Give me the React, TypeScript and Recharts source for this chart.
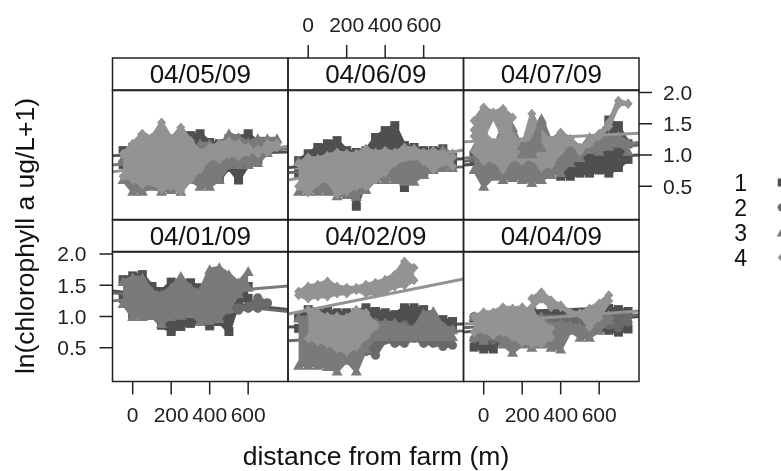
import { ComposedChart, Area, Line, XAxis, YAxis, ReferenceArea, ScatterChart, Scatter } from 'recharts';

type Row = [number, number, number]; // distance, low edge, high edge of the point cloud
type Kind = 1 | 2 | 3 | 4;
interface Cloud { rows: Row[]; kind: Kind }
interface Fit { kind: Kind; left: number; right: number; after: number } // after: cloud it is drawn over

const W = 781;
const H = 471;
const PW = 175.5;
const PH = 130;
const INK = '#222';
const FONT = '"Liberation Sans", Arial, sans-serif';
const COLORS: Record<Kind, string> = { 1: '#4f4f4f', 2: '#6a6a6a', 3: '#7a7a7a', 4: '#939393' };

const xDomain = [-105, 807];
const yDomain = [-0.04, 2.04];
const xTicks = [0, 200, 400, 600];
const yTicks = [0.5, 1, 1.5, 2];
const legendKinds: Kind[] = [1, 2, 3, 4];

// 04/05/09
const a1: Row[] = [[-50,.85,1.07],[0,.75,1.12],[50,.75,1.28],[100,.75,1.23],[150,.75,1.18],[200,.75,1.18],[250,.75,1.23],[300,.85,1.31],[350,.9,1.34],[400,.85,1.2],[450,.61,1.18],[500,.8,1.26],[550,.6,1.26],[600,.85,1.34],[650,.93,1.2]];
const a3: Row[] = [[-50,.61,.95],[0,.42,1],[50,.42,1],[100,.5,1],[150,.42,1],[200,.45,1],[250,.42,1],[300,.61,1],[350,.5,1.18],[400,.5,1.18],[450,.61,1.12],[500,.85,1.34],[550,.85,1.28],[600,.85,1.2],[650,.88,1.26],[700,1.04,1.26],[750,1.14,1.26]];
const a4: Row[] = [[-50,.66,1.02],[0,.61,1.18],[50,.53,1.34],[100,.56,1.28],[150,.45,1.52],[200,.5,1.26],[250,.42,1.44],[300,.61,1.23],[350,.77,1.04],[400,.96,1.12],[450,.93,1.18],[500,1.01,1.22],[550,.98,1.18],[600,1.04,1.12],[650,1.09,1.02],[700,1.04,1.18],[750,1.12,1.18]];
// 04/06/09
const b1: Row[] = [[-50,.7,.91],[0,.7,1.02],[50,.7,1.12],[100,.7,1.18],[150,.7,1.23],[200,.6,1.07],[250,.18,1.04],[300,.6,1.07],[350,.7,1.28],[400,.7,1.39],[450,.7,1.47],[500,.48,1.15],[550,.7,1.12],[600,.7,1.07],[650,.8,1.07],[700,.8,1.1],[750,.85,.96]];
const b3: Row[] = [[-50,.42,.9],[0,.42,.9],[50,.42,.9],[100,.42,.9],[150,.35,.9],[200,.37,.9],[250,.34,.9],[300,.45,.9],[350,.61,.9],[400,.61,.95],[450,.61,.98],[500,.58,1.01],[550,.58,1.01],[600,.69,1.01],[650,.77,.98],[700,.8,1.09],[750,.8,1.02]];
const b4: Row[] = [[-50,.5,.86],[0,.4,.96],[50,.56,.94],[100,.61,.99],[150,.37,1.04],[200,.42,1.02],[250,.5,1.02],[300,.5,1.1],[350,.61,1.04],[400,.72,1.07],[450,.88,1.04],[500,.98,1.12],[550,.98,1.1],[600,.9,1.04],[650,.77,1.07],[700,.88,1.02],[750,.82,.96]];
// 04/07/09
const c1: Row[] = [[-50,.9,1.0],[0,.9,1.0],[50,.9,1.0],[350,.9,1.0],[400,.66,1.0],[450,.66,1.0],[500,.71,1.0],[550,.71,1.0],[600,.76,1.07],[650,.71,1.56],[700,.8,1.47],[750,.93,1.18]];
const c3: Row[] = [[-50,.77,1.1],[0,.5,1.1],[50,.66,1.1],[100,.61,1.44],[150,.64,1.44],[200,.61,1.1],[250,.56,1.2],[300,.61,1.58],[350,.69,1.2],[400,.72,1.2],[450,.88,1.2],[500,.96,1.1],[550,1.09,1.28],[600,1.06,1.28],[650,1.14,1.3],[700,1.2,1.3],[750,1.06,1.2]];
const c4: Row[] = [[-50,1.06,1.4],[0,.9,1.35],[50,.93,1.2],[100,.77,1.3],[150,.96,1.3],[200,.9,1.12],[250,.96,1.66],[300,.8,1.34],[350,.85,1.23],[400,1.06,1.36],[450,1.2,1.26],[500,1.06,1.12],[550,1.18,1.22],[600,1.3,1.34],[650,1.46,1.52],[700,1.81,1.87],[750,1.82,1.82]];
const c4top: Row[] = [[-50,1.3,1.55],[0,1.3,1.76],[50,1.62,1.68],[100,1.3,1.74],[150,1.3,1.6]];
const c3top: Row[] = [[200,1.02,1.15],[250,1.02,1.2],[300,1.12,1.55]];
// 04/01/09
const d1: Row[] = [[-50,1.29,1.59],[0,1.02,1.65],[50,1.02,1.67],[100,1.02,1.48],[150,.86,1.4],[200,.76,1.55],[250,.84,1.51],[300,.89,1.54],[350,.92,1.46],[400,.85,1.43],[450,.92,1.46],[500,.76,1.27],[550,1.24,1.48],[600,1.29,1.48]];
const d2: Row[] = [[450,1.1,1.14],[500,1.1,1.16],[550,1.1,1.14],[600,1.13,1.16],[650,1.13,1.3],[700,1.21,1.22]];
const d3: Row[] = [[-50,1.21,1.56],[0,1,1.62],[50,1,1.62],[100,1.02,1.4],[150,.89,1.35],[200,1,1.46],[250,1.02,1.64],[300,1.05,1.46],[350,.92,1.4],[400,.94,1.75],[450,.97,1.78],[500,1.13,1.67],[550,1.37,1.54],[600,1.47,1.72]];
// 04/02/09
const e1: Row[] = [[-50,.81,.98],[0,.81,1.11],[50,.81,1.08],[100,.81,1.08],[150,.81,1.06],[200,.81,1.06],[250,.81,1.06],[300,.81,1.14],[350,.81,1.08],[400,.81,1.06],[450,.81,1.03],[500,.81,1.14],[550,.81,1.14],[600,.81,1.11],[650,.81,.98],[700,.81,.95],[750,.81,.92]];
const e2: Row[] = [[300,.44,1],[350,.38,.9],[400,.62,.84],[450,.57,.79],[500,.57,.87],[550,.65,.79],[600,.57,.79],[650,.57,.84],[700,.52,.84],[750,.54,.79]];
const e3: Row[] = [[-50,.22,.98],[0,.22,.98],[50,.22,.98],[100,.2,.98],[150,.13,.98],[200,.3,.98],[250,.13,.98],[300,.49,.98],[350,.68,.9],[400,.68,.9],[450,.68,.9],[500,.68,.84],[550,.68,.81],[600,.68,1.05],[650,.68,1.08],[700,.68,.84],[750,.68,.79]];
const e4low: Row[] = [[0,.65,1.11],[50,.6,1.06],[100,.57,1],[150,.49,1],[200,.44,.98],[250,.52,1.11],[300,.68,1.06],[350,.85,.86]];
const e4high: Row[] = [[-50,1.34,1.4],[0,1.29,1.48],[50,1.32,1.51],[100,1.32,1.56],[150,1.37,1.48],[200,1.37,1.46],[250,1.42,1.46],[300,1.37,1.51],[350,1.37,1.54],[400,1.4,1.59],[450,1.48,1.67],[500,1.5,1.88],[550,1.58,1.78]];
// 04/04/09
const f1: Row[] = [[-50,.51,.95],[0,.48,.95],[50,.48,.95],[150,.85,1.05],[200,.85,1.08],[250,.85,1.08],[650,.78,1.13],[700,.75,1.11],[750,.8,1.08]];
const f2: Row[] = [[-50,.64,1],[0,.62,1],[50,.62,1],[650,.86,1],[700,.82,1],[750,.91,1]];
const f3: Row[] = [[-50,.67,1],[0,.62,1],[50,.7,1],[100,.56,1],[150,.43,1],[200,.56,1],[250,.51,1],[300,.56,1],[350,.51,.86],[400,.48,.89],[450,.78,.86],[500,.67,.84],[550,.67,.81],[600,.78,.89],[650,.94,1.02]];
const f4a: Row[] = [[250,1.15,1.29],[300,1.28,1.39],[350,1.15,1.26],[400,1.15,1.18],[450,1.05,1.07],[500,1.04,1.05],[550,.83,1.13],[600,.99,1.21],[650,1.25,1.34]];
const f4b: Row[] = [[-50,.75,1],[0,.78,1.07],[50,.7,1.07],[100,.75,1.15],[150,.67,1.13],[200,.59,1.15],[250,.56,1.07],[300,.56,.91],[350,.67,.81]];

const dot = (kind: Kind, fill: string, r = 4.5) => (p: any) => {
  const { cx, cy, index } = p;
  if (cx == null || cy == null) return <g key={index} />;
  if (kind === 1) return <rect key={index} x={cx - r} y={cy - r} width={2 * r} height={2 * r} fill={fill} />;
  if (kind === 2) return <circle key={index} cx={cx} cy={cy} r={r} fill={fill} />;
  if (kind === 3) return <path key={index} d={`M${cx},${cy - r - 1}L${cx + r + 1},${cy + r}L${cx - r - 1},${cy + r}Z`} fill={fill} />;
  return <path key={index} d={`M${cx},${cy - r - 0.5}L${cx + r},${cy}L${cx},${cy + r + 0.5}L${cx - r},${cy}Z`} fill={fill} />;
};

const tickStyle = { fontSize: 21, fill: INK, fontFamily: FONT };
const axisLineStyle = { stroke: INK, strokeWidth: 1.5 };
const layer = { position: 'absolute' as const, left: 0, top: 0 };

// each cloud and fit line is its own stacked chart, so they stay in plotting order
function CloudLayer({ left, top, cloud }: { left: number; top: number; cloud: Cloud }) {
  const rows = cloud.rows.map(([d, lo, hi]) => ({ d, lo, hi, band: [lo, hi] }));
  const color = COLORS[cloud.kind];
  const margin = { top, left, right: W - left - PW, bottom: H - top - PH };
  return (
    <div style={layer}>
      <ComposedChart width={W} height={H} margin={margin} data={rows}>
        <XAxis dataKey="d" type="number" domain={xDomain} hide allowDataOverflow />
        <YAxis type="number" domain={yDomain} hide allowDataOverflow />
        <Area dataKey="band" type="linear" fill={color} fillOpacity={1} stroke={color} strokeWidth={4}
          strokeLinejoin="round" isAnimationActive={false} dot={false} activeDot={false} />
        <Line dataKey="hi" stroke="none" dot={dot(cloud.kind, color)} activeDot={false} isAnimationActive={false} />
        <Line dataKey="lo" stroke="none" dot={dot(cloud.kind, color)} activeDot={false} isAnimationActive={false} />
      </ComposedChart>
    </div>
  );
}

function FitLayer({ left, top, fits }: { left: number; top: number; fits: Fit[] }) {
  if (!fits.length) return null;
  const margin = { top, left, right: W - left - PW, bottom: H - top - PH };
  return (
    <div style={layer}>
      <ComposedChart width={W} height={H} margin={margin} data={[{ d: 0 }, { d: 1 }]}>
        <XAxis dataKey="d" type="number" domain={xDomain} hide allowDataOverflow />
        <YAxis type="number" domain={yDomain} hide allowDataOverflow />
        {fits.map((f, i) => (
          <Line key={i} data={[{ d: xDomain[0], fit: f.left }, { d: xDomain[1], fit: f.right }]} dataKey="fit"
            stroke={COLORS[f.kind]} strokeWidth={3} dot={false} activeDot={false} isAnimationActive={false} />
        ))}
      </ComposedChart>
    </div>
  );
}

function Panel({ left, top, clouds, fits, side, labelY, bottomAxis, labelX }: {
  left: number; top: number; clouds: Cloud[]; fits: Fit[];
  side?: 'left' | 'right'; labelY?: boolean; bottomAxis?: boolean; labelX?: boolean;
}) {
  const axisW = 60;
  const axisH = 50;
  const margin = {
    top,
    left: side === 'left' ? left - axisW : left,
    right: side === 'right' ? W - left - PW - axisW : W - left - PW,
    bottom: bottomAxis ? H - top - PH - axisH : H - top - PH,
  };
  return (
    <>
      {clouds.map((c, i) => (
        <div key={i}>
          <CloudLayer left={left} top={top} cloud={c} />
          <FitLayer left={left} top={top} fits={fits.filter(f => f.after === i)} />
        </div>
      ))}
      <div style={layer}>
        <ComposedChart width={W} height={H} margin={margin} data={[{ d: 0, v: 1 }, { d: 1, v: 1 }]}>
          <XAxis dataKey="d" type="number" domain={xDomain} ticks={xTicks} allowDataOverflow interval={0}
            hide={!bottomAxis} height={axisH} tickSize={13} tickMargin={13}
            tick={labelX ? tickStyle : false} axisLine={false} tickLine={axisLineStyle} />
          <YAxis type="number" domain={yDomain} ticks={yTicks} allowDataOverflow interval={0}
            hide={!side} orientation={side ?? 'left'} width={axisW} tickSize={13} tickMargin={side === 'left' ? 13 : 11}
            tickFormatter={(v: number) => v.toFixed(1)}
            tick={labelY ? tickStyle : false} axisLine={false} tickLine={axisLineStyle} />
          <Line dataKey="v" stroke="none" dot={false} activeDot={false} isAnimationActive={false} />
          <ReferenceArea x1={xDomain[0]} x2={xDomain[1]} y1={yDomain[0]} y2={yDomain[1]}
            fill="none" stroke={INK} strokeWidth={1.5} ifOverflow="visible" />
        </ComposedChart>
      </div>
    </>
  );
}

function Strip({ left, top, text, axis, labelX }: { left: number; top: number; text: string; axis?: boolean; labelX?: boolean }) {
  const axisH = 50;
  const stripH = 32.5;
  const margin = { top: axis ? top - axisH : top, left, right: W - left - PW, bottom: H - top - stripH };
  return (
    <div style={layer}>
      <ComposedChart width={W} height={H} margin={margin} data={[{ d: 0, v: 0 }, { d: 1, v: 1 }]}>
        <XAxis dataKey="d" type="number" domain={xDomain} ticks={xTicks} interval={0} orientation="top" allowDataOverflow
          hide={!axis} height={axisH} tickSize={13} tickMargin={13}
          tick={labelX ? tickStyle : false} axisLine={false} tickLine={axisLineStyle} />
        <YAxis type="number" domain={[0, 1]} hide />
        <Line dataKey="v" stroke="none" dot={false} activeDot={false} isAnimationActive={false} />
        <ReferenceArea x1={xDomain[0]} x2={xDomain[1]} y1={0} y2={1} fill="none" stroke={INK} strokeWidth={1.5} ifOverflow="visible"
          label={{ value: text, position: 'center', fontSize: 26, fill: '#111', fontFamily: FONT }} />
      </ComposedChart>
    </div>
  );
}

function Legend() {
  const rows = legendKinds.map(k => ({ x: 0.78, k }));
  return (
    <div style={{ position: 'absolute', left: 721, top: 150 }}>
      <ScatterChart width={70} height={140} margin={{ top: 20, right: 0, bottom: 20, left: 0 }}>
        <XAxis dataKey="x" type="number" domain={[0, 1]} hide />
        <YAxis dataKey="k" type="number" domain={[0.5, 4.5]} reversed ticks={legendKinds} interval={0} width={28}
          axisLine={false} tickLine={false} tickSize={0} tickMargin={2}
          tick={{ fontSize: 23, fill: '#111', fontFamily: FONT }} />
        <Scatter data={rows} isAnimationActive={false}
          shape={(p: any) => dot(p.payload.k, COLORS[p.payload.k as Kind], 4)({ cx: p.cx, cy: p.cy, index: p.payload.k })} />
      </ScatterChart>
    </div>
  );
}

export default function App() {
  const labelBase = { position: 'absolute' as const, fontFamily: FONT, color: '#111', whiteSpace: 'nowrap' as const };
  return (
    <div style={{ position: 'absolute', left: 0, top: 0, width: W, height: H, overflow: 'hidden', background: '#fff', filter: 'blur(0.4px)' }}>
      <Strip left={112.5} top={58} text="04/05/09" axis />
      <Strip left={288} top={58} text="04/06/09" axis labelX />
      <Strip left={463.5} top={58} text="04/07/09" axis />
      <Strip left={112.5} top={219.5} text="04/01/09" />
      <Strip left={288} top={219.5} text="04/02/09" />
      <Strip left={463.5} top={219.5} text="04/04/09" />

      <Panel left={112.5} top={90} side="left"
        clouds={[{ rows: a1, kind: 1 }, { rows: a3, kind: 3 }, { rows: a4, kind: 4 }]}
        fits={[{ kind: 1, left: .99, right: 1.05, after: 0 }, { kind: 3, left: .84, right: 1.1, after: 1 }, { kind: 4, left: .73, right: 1.14, after: 2 }]} />
      <Panel left={288} top={90}
        clouds={[{ rows: b1, kind: 1 }, { rows: b3, kind: 3 }, { rows: b4, kind: 4 }]}
        fits={[{ kind: 1, left: .8, right: .94, after: 0 }, { kind: 2, left: .72, right: .81, after: 0 }, { kind: 4, left: .6, right: 1.08, after: 2 }]} />
      <Panel left={463.5} top={90} side="right" labelY
        clouds={[{ rows: c1, kind: 1 }, { rows: c3, kind: 3 }, { rows: c4, kind: 4 }, { rows: c4top, kind: 4 }, { rows: c3top, kind: 3 }]}
        fits={[{ kind: 1, left: .84, right: 1, after: 0 }, { kind: 2, left: .9, right: 1.16, after: 0 }, { kind: 3, left: .95, right: 1.2, after: 1 }, { kind: 4, left: 1.21, right: 1.35, after: 3 }]} />
      <Panel left={112.5} top={251.5} side="left" labelY bottomAxis labelX
        clouds={[{ rows: d1, kind: 1 }, { rows: d2, kind: 2 }, { rows: d3, kind: 3 }]}
        fits={[{ kind: 1, left: 1.41, right: 1.11, after: 0 }, { kind: 2, left: 1.38, right: 1.08, after: 1 }, { kind: 3, left: 1.25, right: 1.49, after: 2 }]} />
      <Panel left={288} top={251.5} bottomAxis
        clouds={[{ rows: e1, kind: 1 }, { rows: e2, kind: 2 }, { rows: e3, kind: 3 }, { rows: e4low, kind: 4 }, { rows: e4high, kind: 4 }]}
        fits={[{ kind: 1, left: .83, right: .88, after: 0 }, { kind: 2, left: .61, right: .77, after: 1 }, { kind: 4, left: 1.04, right: 1.6, after: 4 }]} />
      <Panel left={463.5} top={251.5} side="right" bottomAxis labelX
        clouds={[{ rows: f1, kind: 1 }, { rows: f2, kind: 2 }, { rows: f3, kind: 3 }, { rows: f4a, kind: 4 }, { rows: f4b, kind: 4 }]}
        fits={[{ kind: 1, left: .75, right: 1, after: 0 }, { kind: 2, left: .82, right: 1.03, after: 1 }, { kind: 4, left: .88, right: 1.09, after: 4 }]} />

      <Legend />

      <div style={{ ...labelBase, left: 376, top: 456, fontSize: 26.5, transform: 'translate(-50%, -50%)' }}>distance from farm (m)</div>
      <div style={{ ...labelBase, left: 25, top: 236, fontSize: 26.5, transform: 'translate(-50%, -50%) rotate(-90deg)' }}>ln(chlorophyll a ug/L+1)</div>
    </div>
  );
}
